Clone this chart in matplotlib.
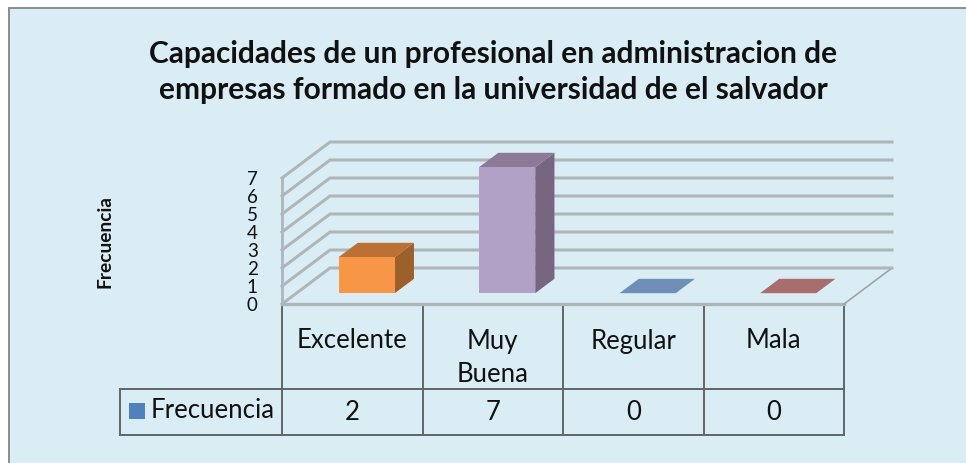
import matplotlib
matplotlib.use("Agg")
import matplotlib.pyplot as plt
from matplotlib.patches import Polygon, Rectangle

categories = ["Excelente", "Muy\nBuena", "Regular", "Mala"]
values = [2, 7, 0, 0]
series_name = "Frecuencia"
y_ticks = [0, 1, 2, 3, 4, 5, 6, 7]
title_lines = ["Capacidades de un profesional en administracion de",
               "empresas formado en la universidad de el salvador"]

W, H = 966, 463
BG = "#DAEDF4"
front_colors = ["#F79646", "#B2A1C7", "#6F8FB8", "#B07070"]
top_colors = ["#BA7133", "#8C7A98", "#6F8FB8", "#A86E6E"]
side_colors = ["#9E602B", "#786680", "#6F8FB8", "#A86E6E"]
GRID = "#AEB6BA"
TABLE = "#5F6668"
FONT = "Lato"

plt.rcParams["font.family"] = [FONT, "DejaVu Sans"]
fig = plt.figure(figsize=(W / 100, H / 100), dpi=100, facecolor="white")

# page layer in pixel coordinates
pg = fig.add_axes([0, 0, 1, 1], zorder=0)
pg.set_xlim(0, W)
pg.set_ylim(H, 0)
pg.axis("off")
pg.add_patch(Rectangle((9, 8), W + 20, H + 20, fc=BG, ec="#8C8C8C", lw=1.4, clip_on=False))

# front plane of the 3-D chart: x = category, y = value
x0, x1, ytop, ybot = 282, 844, 178, 304
ax = fig.add_axes([x0 / W, 1 - ybot / H, (x1 - x0) / W, (ybot - ytop) / H], zorder=1)
ax.set_xlim(0, len(categories))
ax.set_ylim(0, max(y_ticks))
ax.axis("off")
ax.patch.set_alpha(0)

DX = 48 / ((x1 - x0) / len(categories))  # depth shift in category units
DY = 36 / ((ybot - ytop) / max(y_ticks))  # depth shift in value units


def proj(c, v, d):
    return (c + DX * d, v + DY * d)


n = len(categories)
# floor edges
ax.plot(*zip(proj(0, 0, 0), proj(n, 0, 0)), color=GRID, lw=2.4, clip_on=False, zorder=1)
ax.plot(*zip(proj(n, 0, 0), proj(n, 0, 1)), color="#9DA5A8", lw=1.2, clip_on=False, zorder=1)
ax.plot(*zip(proj(0, 0, 0), proj(0, max(y_ticks), 0)), color=GRID, lw=2.0, clip_on=False, zorder=1)
# grid lines
for v in y_ticks:
    ax.plot(*zip(proj(0, v, 0), proj(0, v, 1), proj(n, v, 1)), color=GRID, lw=2.2,
            clip_on=False, zorder=1, solid_joinstyle="miter")

# bars
b0, b1 = 0.3, 0.7
d0, d1 = 0.3, 0.7
for i, val in enumerate(values):
    l, r = i + b0, i + b1
    front = [proj(l, 0, d0), proj(r, 0, d0), proj(r, val, d0), proj(l, val, d0)]
    top = [proj(l, val, d0), proj(r, val, d0), proj(r, val, d1), proj(l, val, d1)]
    side = [proj(r, 0, d0), proj(r, 0, d1), proj(r, val, d1), proj(r, val, d0)]
    ax.add_patch(Polygon(side, fc=side_colors[i], ec="none", clip_on=False, zorder=3))
    ax.add_patch(Polygon(top, fc=top_colors[i], ec="none", clip_on=False, zorder=3))
    ax.add_patch(Polygon(front, fc=front_colors[i], ec="none", clip_on=False, zorder=4))

# value tick labels
for v in y_ticks:
    ax.text(-0.172, v, str(v), ha="right", va="center_baseline", fontsize=13.5, color="#111111",
            clip_on=False)

# data table, pixel layer
cw = (x1 - x0) / n
row1, row2, row3 = 304, 389, 435
for i in range(n + 1):
    x = x0 + i * cw
    pg.plot([x, x], [row1, row3], color=TABLE, lw=1.4, zorder=2)
pg.plot([120, x1], [row2, row2], color=TABLE, lw=1.4, zorder=2)
pg.plot([120, x1], [row3, row3], color=TABLE, lw=1.4, zorder=2)
pg.plot([120, 120], [row2, row3], color=TABLE, lw=1.4, zorder=2)

for i, (cat, val) in enumerate(zip(categories, values)):
    cx = x0 + (i + 0.5) * cw
    for j, part in enumerate(cat.split("\n")):
        pg.text(cx, 341 + 33 * j, part, ha="center", va="center", fontsize=18.5, color="#111111", zorder=3)
    pg.text(cx, 413, str(val), ha="center", va="center", fontsize=18.5, color="#111111", zorder=3)

pg.add_patch(Rectangle((129, 403), 16, 16, fc="#4F81BD", ec="none", zorder=3))
pg.text(151, 411, series_name, ha="left", va="center", fontsize=18.5, color="#111111", zorder=3)

# axis title and chart title
pg.text(105, 242, series_name, rotation=90, ha="center", va="center", fontsize=13.8,
        fontweight="bold", color="#111111", zorder=3)
for j, line in enumerate(title_lines):
    pg.text(493, 54 + 36 * j, line, ha="center", va="center", fontsize=21.5, fontweight="bold",
            color="#111111", zorder=3)

fig.savefig("out.png", dpi=100, facecolor="white")
